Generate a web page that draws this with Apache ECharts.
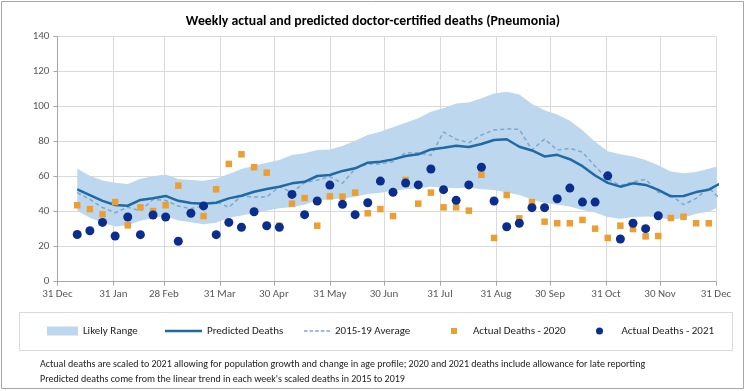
<!DOCTYPE html>
<html><head><meta charset="utf-8">
<script src="https://cdn.jsdelivr.net/npm/echarts@6/dist/echarts.min.js"></script>
<style>html,body{margin:0;padding:0;background:#fff}#c{width:746px;height:391px}</style>
</head><body><div id="c"></div>
<script>
// X axis: days after 31 Dec 2020
const tickDays = [0, 31, 59, 90, 120, 151, 181, 212, 243, 273, 304, 334, 365];
const tickLabels = ['31 Dec','31 Jan','28 Feb','31 Mar','30 Apr','31 May','30 Jun','31 Jul','31 Aug','30 Sep','31 Oct','30 Nov','31 Dec'];
const yTicks = [0, 20, 40, 60, 80, 100, 120, 140];
const firstWeekDay = 11;

const predicted = [52.8, 49.5, 46.2, 43.8, 43.4, 46.7, 47.7, 49, 46.2, 45,
  44.6, 45.1, 47.6, 49.1, 51.4, 53, 54.3, 56.2, 57.1, 60.4,
  61, 63.3, 64.8, 68, 68.6, 69.9, 71.8, 72.8, 75.6, 76.6,
  77.7, 77, 78.7, 81, 81.4, 77.1, 75, 71.6, 72.5, 70,
  66, 60.7, 56.5, 54.3, 56.2, 55.3, 52.5, 48.8, 49, 51.2,
  52.6, 56.5];
const rangeHigh = [64.6, 60.5, 57.8, 56.6, 55.8, 58.8, 60.2, 61.2, 58.7, 58.1,
  57.7, 58.9, 61.6, 64.4, 66.3, 68, 69.5, 72.4, 73.4, 75.3,
  75.5, 77.5, 80.6, 83.8, 85.7, 88.2, 90.9, 93.4, 97.1, 99.1,
  101.9, 102.4, 104.8, 107.5, 108.6, 107, 101.5, 98, 95.5, 92,
  86.5, 80, 74.5, 72.8, 71.5, 69.5, 66.5, 63, 62, 62.7,
  64.5, 66.6];
const rangeLow = [40.5, 36.5, 33.7, 31.6, 32.2, 34.8, 36.4, 37.6, 35, 34,
  32.8, 33.7, 36.6, 37.8, 39.3, 40.5, 42, 42.5, 44, 46.5,
  47, 47.5, 48.6, 50.1, 50.9, 52, 52.8, 53.4, 54.3, 53.9,
  53.4, 53.9, 52.8, 52.4, 51, 49.5, 47, 45, 44, 43,
  41, 39.5, 37, 36, 37, 37.3, 37, 35.2, 36.5, 38.8,
  40, 43.5];
const avg1519 = [50.9, 47, 42.4, 39.4, 42.6, 40.5, 47, 46.4, 43.2, 41.7,
  43.5, 45.7, 42.5, 49, 48.4, 48.4, 54.3, 51.1, 56.6, 58.1,
  60, 56.2, 64.6, 67.3, 67.3, 68.6, 73.7, 73.7, 72.2, 85.5,
  81.4, 79.4, 83.8, 86.7, 87.3, 87.1, 75.3, 81.5, 75.3, 76.2,
  74, 66, 58.5, 55, 57, 58.5, 51, 49.5, 44, 47.6,
  53.7, 46.5];
const actual2020 = [43.7, 41.5, 38.5, 45.5, 32.2, 42.5, 40.4, 43.7, 54.9, 39.5,
  37.5, 52.8, 67.3, 72.8, 65.4, 62.3, 32, 44.6, 47.8, 32,
  48.8, 48.6, 50.9, 39.1, 41.5, 37.5, 58.1, 44.6, 50.9, 42.5,
  42.5, 40.6, 61.1, 25, 49.5, 36.2, 45.5, 34.3, 33.4, 33.4,
  35.3, 30.3, 25, 32, 30.1, 25.9, 26.1, 36.4, 37.1, 33.4, 33.4];
const actual2021 = [27, 29.1, 33.9, 26.1, 37, 26.9, 38.1, 37, 23.1, 39.1,
  43.3, 26.9, 33.9, 31.1, 40, 32, 31.1, 49.9, 38.3, 46.1,
  55.2, 44.2, 38.3, 45.1, 57.5, 51.1, 56.4, 55.3, 64.4, 52.6,
  46.5, 55.3, 65.4, 46.1, 31.4, 33.4, 42.3, 42.3, 47.4, 53.5,
  45.5, 45.5, 60.5, 24.4, 33.4, 30.3, 37.7];

const weekDay = i => firstWeekDay + 7 * i;
const pairs = arr => arr.map((v, i) => [weekDay(i), v]);

const FONT = 'Carlito, Lato, sans-serif';
const C_BAND = '#BDD7EE', C_PRED = '#1F6AA5', C_AVG = '#7FA6CE', C_2020 = '#EC9F30', C_2021 = '#0B2D8E';

const chart = echarts.init(document.getElementById('c'), null, {renderer: 'canvas'});
const legendText = {fontFamily: FONT, fontSize: 11, color: '#222', lineHeight: 14};
const legendBase = {top: 324, padding: 0, textStyle: legendText, selectedMode: false};
chart.setOption({
  animation: false,
  backgroundColor: '#fff',
  textStyle: {fontFamily: FONT},
  title: {
    text: 'Weekly actual and predicted doctor-certified deaths (Pneumonia)',
    left: 'center', top: 10,
    textStyle: {fontFamily: FONT, fontSize: 13.8, fontWeight: 'bold', color: '#000'}
  },
  grid: {left: 57.4, right: 30, top: 36.7, bottom: 109.3, containLabel: false},
  xAxis: {
    type: 'value', min: 0, max: 365,
    axisLine: {show: true, lineStyle: {color: '#A6A6A6'}},
    axisTick: {show: true, length: 4, customValues: tickDays, lineStyle: {color: '#A6A6A6'}},
    axisLabel: {customValues: tickDays, margin: 7, fontSize: 11, color: '#595959', fontFamily: FONT,
      formatter: v => tickLabels[tickDays.indexOf(Math.round(v))] || ''},
    splitLine: {show: true, lineStyle: {color: '#D9D9D9'}}
  },
  yAxis: {
    type: 'value', min: 0, max: 140, interval: 20,
    axisLine: {show: true, lineStyle: {color: '#A6A6A6'}},
    axisTick: {show: true, length: 4, lineStyle: {color: '#A6A6A6'}},
    axisLabel: {margin: 8, fontSize: 11, color: '#595959', fontFamily: FONT,
      formatter: v => yTicks.includes(v) ? String(v) : ''},
    splitLine: {show: true, lineStyle: {color: '#D9D9D9'}}
  },
  legend: [
    Object.assign({data: [{name: 'Likely Range', icon: 'rect', itemStyle: {color: C_BAND}}], left: 47, itemWidth: 31, itemHeight: 9}, legendBase),
    Object.assign({data: [{name: 'Predicted Deaths', icon: 'rect', itemStyle: {color: C_PRED}}], left: 165, itemWidth: 37, itemHeight: 2.5, symbolKeepAspect: false}, legendBase),
    Object.assign({data: [{name: '2015-19 Average', icon: 'path://M0,0h3.5v1h-3.5zM5.5,0h3.5v1h-3.5zM11,0h3.5v1h-3.5zM16.5,0h3.5v1h-3.5zM22,0h3.5v1h-3.5z', itemStyle: {color: C_AVG}}], left: 304, itemWidth: 26, itemHeight: 1.5, symbolKeepAspect: false}, legendBase),
    Object.assign({data: [{name: 'Actual Deaths - 2020', icon: 'path://M0,0h1v1h-1z', itemStyle: {color: C_2020}}], left: 451, itemWidth: 28, itemHeight: 6, symbolKeepAspect: true}, legendBase),
    Object.assign({data: [{name: 'Actual Deaths - 2021', icon: 'circle', itemStyle: {color: C_2021}}], left: 596, itemWidth: 34, itemHeight: 7}, legendBase)
  ],
  graphic: [
    {type: 'rect', silent: true, shape: {x: 1.5, y: 1.5, width: 742, height: 387}, style: {fill: null, stroke: '#A6A6A6', lineWidth: 1}},
    {type: 'rect', silent: true, shape: {x: 19.5, y: 312.5, width: 713, height: 38}, style: {fill: null, stroke: '#D9D9D9', lineWidth: 1}},
    {type: 'text', left: 40, top: 359, style: {text: 'Actual deaths are scaled to 2021 allowing for population growth and change in age profile; 2020 and 2021 deaths include allowance for late reporting', fontFamily: FONT, fontSize: 10, fill: '#222'}},
    {type: 'text', left: 40, top: 374, style: {text: "Predicted deaths come from the linear trend in each week's scaled deaths in 2015 to 2019", fontFamily: FONT, fontSize: 10, fill: '#222'}}
  ],
  series: [
    {name: 'Likely Range', type: 'custom', clip: true, silent: true, z: 1,
      itemStyle: {color: C_BAND},
      encode: {x: 0, y: [1, 2]},
      data: rangeHigh.map((h, i) => [weekDay(i), rangeLow[i], h]),
      renderItem: (params, api) => {
        if (params.dataIndexInside !== 0) return null;
        const top = rangeHigh.map((h, i) => api.coord([weekDay(i), h]));
        const bot = rangeLow.map((l, i) => api.coord([weekDay(i), l])).reverse();
        return {type: 'polygon', shape: {points: top.concat(bot)}, style: {fill: C_BAND}};
      }},
    {name: '2015-19 Average', type: 'line', data: pairs(avg1519), symbol: 'none',
      lineStyle: {color: C_AVG, width: 1.5, type: [4, 3]}, itemStyle: {color: C_AVG}, z: 2},
    {name: 'Predicted Deaths', type: 'line', data: pairs(predicted), symbol: 'none',
      lineStyle: {color: C_PRED, width: 2.5}, itemStyle: {color: C_PRED}, z: 3},
    {name: 'Actual Deaths - 2020', type: 'scatter', data: pairs(actual2020), symbol: 'rect', symbolSize: 6.5,
      itemStyle: {color: C_2020, opacity: 1}, z: 4},
    {name: 'Actual Deaths - 2021', type: 'scatter', data: pairs(actual2021), symbol: 'circle', symbolSize: 9,
      itemStyle: {color: C_2021, opacity: 1}, z: 5}
  ]
});
</script></body></html>
